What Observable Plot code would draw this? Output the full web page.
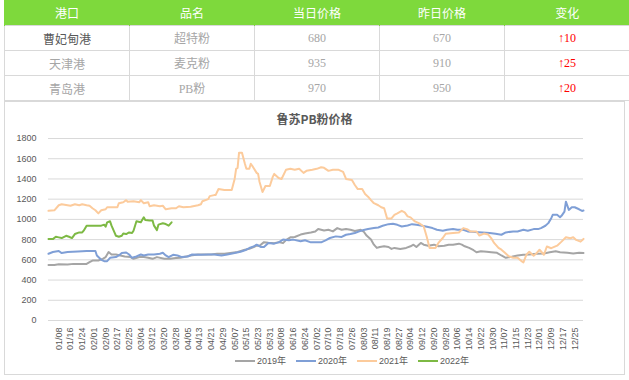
<!DOCTYPE html>
<html><head><meta charset="utf-8">
<script src="https://cdn.jsdelivr.net/npm/d3@7"></script>
<script src="https://cdn.jsdelivr.net/npm/@observablehq/plot@0.6"></script>
<style>
body{margin:0;width:629px;height:380px;position:relative;overflow:hidden;background:#fff;font-family:"Noto Sans CJK SC","Liberation Sans",sans-serif;}
table{position:absolute;left:4px;top:0;border-collapse:collapse;table-layout:fixed;width:626px;}
td,th{height:24px;padding:0;text-align:center;font-size:12px;font-weight:normal;}
th{background:#7ed93c;color:#fff;height:25px;border-left:1px solid #7ed93c;}
td{border:1px solid #d9d9d9;color:#a6a6a6;font-family:"Liberation Serif","Noto Sans CJK SC",serif;}
td.port0{color:#595959;font-family:"Noto Sans CJK SC",sans-serif;}
td.port{font-family:"Noto Sans CJK SC",sans-serif;}
td.chg{color:#ff0000;}
#frame{position:absolute;left:4px;top:101px;width:619px;height:272px;border:1px solid #d9d9d9;}
#title{position:absolute;left:0;width:629px;top:110px;text-align:center;font-size:12px;font-weight:bold;color:#595959;}
#chart{position:absolute;left:0;top:130px;}
#legend{position:absolute;left:235px;top:354px;display:flex;font-size:9px;color:#595959;font-family:"Liberation Sans","Noto Sans CJK SC",sans-serif;}
.item{display:flex;align-items:center;margin-right:10px;}
.sw{width:20px;height:2px;margin-right:2px;}
</style></head>
<body>
<div id="frame"></div>
<div id="table"></div>
<div id="title"></div>
<div id="chart"></div>
<div id="legend"></div>
<script>
// ---- table data ----
const headers = ["港口","品名","当日价格","昨日价格","变化"];
const ports = ["曹妃甸港","天津港","青岛港"];
const products = ["超特粉","麦克粉","PB粉"];
const todayPrice = [680,935,970];
const yesterdayPrice = [670,910,950];
const changes = ["↑10","↑25","↑20"];

// ---- chart data (day index of year, 0 = 01/01) ----
const chartTitle = "鲁苏PB粉价格";
const seriesNames = ["2019年","2020年","2021年","2022年"];
const seriesColors = ["#a5a5a5","#7f9fd6","#fccb9c","#7db944"];

const days2019 = [0,4,7,13,17,22,26,28,30,34,37,39,41,43,46,49,52,56,58,62,65,68,71,74,79,83,87,90,94,97,102,106,111,115,120,124,129,134,137,140,142,144,147,150,154,157,160,162,165,168,172,175,179,182,184,188,191,194,197,200,203,206,209,213,215,217,220,222,224,226,229,232,234,236,240,244,247,249,251,254,256,259,263,266,270,273,276,280,282,284,287,290,292,295,299,302,306,309,312,316,320,324,328,333,338,342,346,349,354,358,362,365];
const vals2019 = [550,550,557,553,560,560,560,577,593,593,610,627,677,653,653,643,633,627,610,627,627,620,610,627,610,610,617,620,633,643,653,653,653,660,660,667,677,700,710,727,740,740,775,770,765,775,765,795,823,826,850,860,870,880,905,890,897,881,914,897,904,897,885,897,880,840,800,750,718,727,734,727,708,718,708,718,734,750,727,767,750,740,750,734,740,750,750,760,750,734,718,695,675,685,680,675,669,643,620,630,643,650,653,660,663,675,685,675,669,663,669,667];

const days2020 = [0,3,7,9,13,20,26,32,33,36,38,40,42,46,48,50,53,55,57,60,63,65,68,72,76,78,80,82,85,88,91,95,98,104,109,113,118,122,127,131,135,137,140,142,145,147,150,154,157,160,164,167,172,175,179,186,189,192,196,200,203,206,209,212,215,218,222,225,228,232,235,238,241,245,248,251,255,259,262,265,269,272,276,279,283,286,291,296,301,305,309,312,317,320,324,327,331,334,336,339,341,343,344,347,349,350,352,353,355,357,359,362,364,365];
const vals2020 = [660,677,687,667,677,683,687,687,643,600,587,587,620,627,643,667,673,653,620,633,653,643,653,653,660,670,643,627,650,643,627,633,653,650,653,653,643,653,667,680,700,717,733,750,727,727,767,760,773,800,793,800,783,793,773,773,793,816,832,826,848,855,865,881,895,905,914,920,937,953,956,946,930,940,953,946,937,924,914,897,888,897,904,897,897,881,875,871,865,858,848,871,881,881,897,888,904,904,914,937,963,1012,1045,1045,1022,1035,1077,1175,1094,1120,1120,1100,1084,1087];

const days2021 = [0,4,7,9,13,15,18,21,23,26,28,30,32,34,36,39,40,47,48,51,53,54,58,62,63,65,68,69,72,76,78,80,84,87,89,92,97,102,104,105,109,110,113,114,116,120,125,127,128,129,130,132,134,135,137,138,139,142,143,144,146,148,151,153,154,157,159,162,165,168,171,174,176,180,183,186,188,191,194,198,201,203,207,209,211,214,216,218,220,222,225,227,229,231,234,236,238,241,243,245,247,250,253,256,258,260,264,266,269,271,276,280,283,286,288,292,294,297,300,302,304,307,309,311,314,317,320,323,324,326,328,331,333,335,338,340,343,347,350,353,356,358,360,363,365];
const vals2021 = [1085,1090,1140,1150,1140,1135,1150,1140,1150,1140,1135,1110,1090,1060,1090,1100,1120,1120,1160,1170,1190,1175,1180,1170,1190,1160,1170,1130,1140,1130,1135,1100,1110,1110,1130,1120,1125,1140,1150,1180,1200,1230,1240,1240,1300,1290,1290,1400,1500,1510,1660,1660,1550,1500,1500,1550,1530,1460,1450,1370,1270,1330,1330,1420,1450,1410,1400,1490,1500,1490,1500,1460,1480,1490,1500,1515,1510,1480,1490,1490,1470,1400,1390,1340,1300,1300,1250,1225,1190,1160,1140,1120,1110,1010,1010,1045,1060,1085,1070,1030,1020,980,960,930,830,718,718,767,816,858,865,870,914,900,880,880,840,860,850,815,767,718,700,675,635,620,620,585,575,650,680,640,666,700,650,732,715,740,780,823,813,823,797,780,807];

const days2022 = [0,3,5,7,9,12,14,16,18,21,23,24,26,29,36,38,39,40,42,43,45,46,48,50,51,53,55,57,58,60,63,65,66,69,71,72,74,75,78,80,82,84];
const vals2022 = [805,805,828,822,815,838,828,815,855,871,871,888,938,938,938,948,928,971,981,938,871,838,828,838,861,855,871,865,888,981,971,1021,994,988,988,938,894,948,961,954,938,971];

const xTickLabels = ["01/08","01/16","01/24","02/01","02/09","02/17","02/25","03/04","03/12","03/20","03/28","04/05","04/13","04/21","04/29","05/07","05/15","05/23","05/31","06/08","06/16","06/24","07/02","07/10","07/18","07/26","08/03","08/11","08/19","08/27","09/04","09/12","09/20","09/28","10/06","10/14","10/22","10/30","11/07","11/15","11/23","12/01","12/09","12/17","12/25"];
const yTicks = [0,200,400,600,800,1000,1200,1400,1600,1800];

// ---- table ----
let html = "<table><tr>" + headers.map(h => `<th>${h}</th>`).join("") + "</tr>";
ports.forEach((p, i) => {
  html += `<tr><td class="${i===0?'port0':'port'}">${p}</td><td>${products[i]}</td><td>${todayPrice[i]}</td><td>${yesterdayPrice[i]}</td><td class="chg">${changes[i]}</td></tr>`;
});
html += "</table>";
document.getElementById("table").innerHTML = html;
document.getElementById("title").textContent = chartTitle;

// ---- chart ----
const base = Date.UTC(2020, 0, 1);
const toDate = d => new Date(base + d * 864e5);
const parseTick = s => { const [m, d] = s.split("/").map(Number); return new Date(Date.UTC(2020, m - 1, d)); };
const allDays = [days2019, days2020, days2021, days2022];
const allVals = [vals2019, vals2020, vals2021, vals2022];
const rows = [];
seriesNames.forEach((n, k) => allDays[k].forEach((d, i) => rows.push({date: toDate(d), value: allVals[k][i], name: n})));

const chart = Plot.plot({
  width: 629, height: 225,
  marginLeft: 48, marginRight: 46, marginTop: 8, marginBottom: 35,
  style: {fontFamily: "Liberation Sans, sans-serif", fontSize: "9px", color: "#595959", background: "transparent"},
  x: {type: "utc", domain: [toDate(0), toDate(365)], ticks: xTickLabels.map(parseTick), tickFormat: d3.utcFormat("%m/%d"), tickRotate: -90, tickSize: 0, tickPadding: 7, label: null},
  y: {domain: [0, 1800], ticks: yTicks, tickFormat: d => String(d), tickSize: 0, tickPadding: 12, label: null},
  color: {domain: seriesNames, range: seriesColors},
  marks: [
    Plot.ruleY(yTicks, {stroke: "#d9d9d9", strokeWidth: 1}),
    Plot.line(rows, {x: "date", y: "value", z: "name", stroke: "name", strokeWidth: 2, curve: "linear"})
  ]
});
document.getElementById("chart").appendChild(chart);

// ---- legend ----
document.getElementById("legend").innerHTML = seriesNames.map((n, i) =>
  `<div class="item"><div class="sw" style="background:${seriesColors[i]}"></div><span>${n}</span></div>`).join("");
</script>
</body></html>
